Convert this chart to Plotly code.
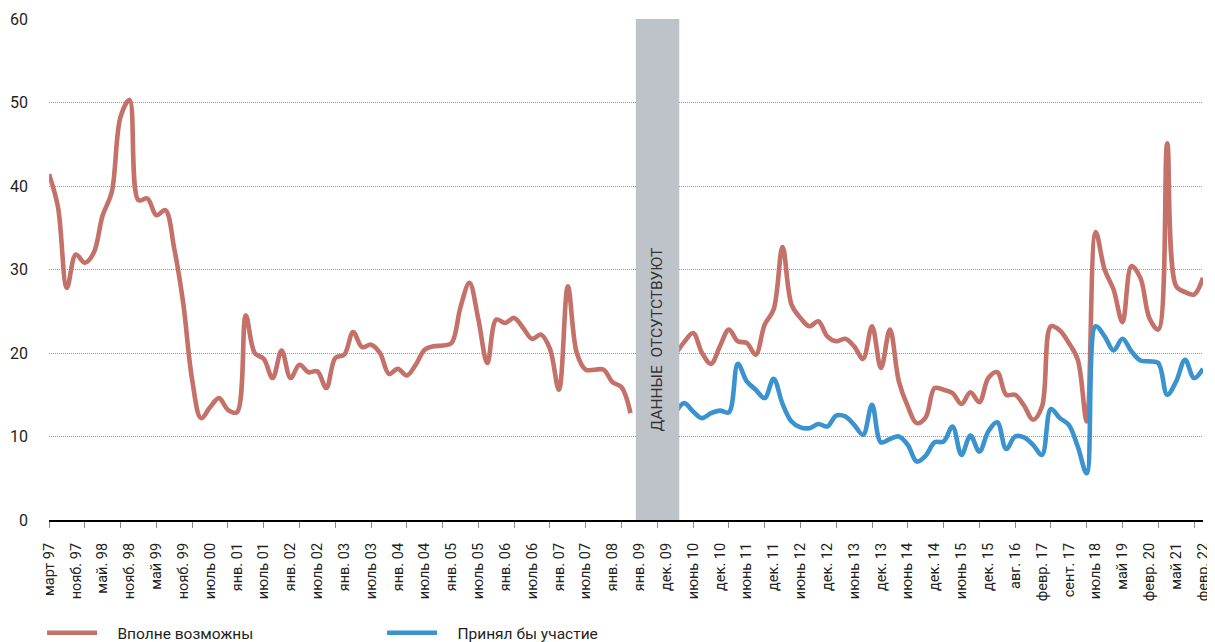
import plotly.graph_objects as go

# Category axis: survey waves 0..129 (labels every 3rd wave, tick marks every 4th)
tick_labels = ["март 97", "нояб. 97", "май. 98", "нояб. 98", "май 99", "нояб. 99",
               "июль 00", "янв. 01", "июль 01", "янв. 02", "июль 02", "янв. 03",
               "июль 03", "янв. 04", "июль 04", "янв. 05", "июль 05", "янв. 06",
               "июль 06", "янв. 07", "июль 07", "янв. 08", "янв. 09", "дек. 09",
               "июнь 10", "дек. 10", "июнь 11", "дек. 11", "июнь 12", "дек. 12",
               "июнь 13", "дек. 13", "июнь 14", "дек. 14", "июнь 15", "дек. 15",
               "авг. 16", "февр. 17", "сент. 17", "июль 18", "май 19", "февр. 20",
               "май 21", "февр. 22"]

# "Вполне возможны" (waves 0..65, then gap, then 70..129)
vpolne_part1 = [41.4, 37.5, 27.8, 31.8, 30.8, 32.0, 36.5, 39.2, 48.3, 50.3,
                38.3, 38.5, 36.5, 37.1, 32.5, 26.0, 16.8, 12.2, 13.5, 14.6,
                13.2, 12.9, 24.5, 20.0, 19.3, 17.0, 20.3, 17.0, 18.6, 17.7,
                17.8, 15.8, 19.4, 19.8, 22.5, 20.7, 21.0, 20.0, 17.5, 18.1,
                17.3, 18.6, 20.4, 20.8, 20.9, 21.2, 25.5, 28.4, 24.0, 18.8,
                24.0, 23.6, 24.2, 23.0, 21.7, 22.2, 20.5, 15.6, 28.0, 20.0,
                18.0, 18.0, 18.0, 16.5, 15.9, 12.8]
vpolne_part2 = [19.8, 21.3, 22.4, 20.0, 18.7, 20.8, 22.8, 21.4, 21.2, 19.8,
                23.4, 25.2, 32.7, 25.8, 24.2, 23.2, 23.8, 22.0, 21.4, 21.7,
                20.8, 19.3, 23.2, 18.2, 22.8, 16.6, 13.6, 11.6, 12.3, 15.8,
                15.6, 15.2, 13.9, 15.3, 14.1, 17.0, 17.7, 15.0, 15.0, 13.7,
                12.0, 13.6, 23.2, 22.7, 21.2, 19.2, 11.8, 34.5, 30.0, 27.6,
                23.7, 30.4, 29.0, 24.2, 22.8, 45.1, 28.0, 27.3, 27.0, 29.0]
# "Принял бы участие" (waves 70..129)
prinyal_part2 = [12.8, 14.0, 13.0, 12.2, 12.8, 13.1, 12.9, 18.7, 16.6, 15.6,
                 14.6, 16.9, 13.9, 11.8, 11.1, 11.0, 11.5, 11.2, 12.5, 12.4,
                 11.4, 10.2, 13.8, 9.3, 9.7, 10.0, 9.0, 7.0, 7.7, 9.3,
                 9.4, 11.2, 7.8, 10.1, 8.2, 10.6, 11.7, 8.5, 10.0, 9.9,
                 9.0, 7.8, 13.3, 12.2, 11.4, 8.8, 5.6, 23.2, 22.0, 20.3,
                 21.7, 20.2, 19.1, 19.0, 18.8, 15.0, 16.6, 19.2, 17.0, 18.1]

n_missing = 4
vpolne = vpolne_part1 + [None] * n_missing + vpolne_part2
prinyal = [None] * (len(vpolne_part1) + n_missing) + prinyal_part2
waves = list(range(len(vpolne)))
last = waves[-1]

RED = "#C4716A"
BLUE = "#3A93CF"
FONT = "Roboto, 'DejaVu Sans', sans-serif"
TXT = "#231F20"
NB = "\u00a0" * 4

fig = go.Figure()
# red on the tick-mark axis, blue on the label axis (both share the same range)
fig.add_trace(go.Scatter(x=waves, y=vpolne, mode="lines", name=NB + "Вполне возможны",
                         xaxis="x", yaxis="y",
                         line=dict(color=RED, width=4.6, shape="spline", smoothing=1.0)))
fig.add_trace(go.Scatter(x=waves, y=prinyal, mode="lines", name=NB + "Принял бы участие",
                         xaxis="x2", yaxis="y",
                         line=dict(color=BLUE, width=4.6, shape="spline", smoothing=1.0)))

# missing-data band
fig.add_shape(type="rect", xref="x", yref="y", x0=65.6, x1=70.45, y0=0, y1=60.2,
              fillcolor="#BEC2C9", line=dict(width=0), layer="above")
fig.add_annotation(x=67.95, y=21.6, xref="x", yref="y", text="ДАННЫЕ  ОТСУТСТВУЮТ",
                   textangle=-90, showarrow=False,
                   font=dict(family=FONT, size=15.5, color="#333333"))

fig.update_layout(
    width=1215, height=642,
    margin=dict(l=41, r=20, t=11, b=130, autoexpand=False),
    paper_bgcolor="white", plot_bgcolor="white",
    font=dict(family=FONT, size=16, color=TXT),
    showlegend=True,
    legend=dict(orientation="h", x=-0.006, xanchor="left", y=-0.226, yanchor="middle",
                entrywidth=275, entrywidthmode="pixels", itemwidth=50,
                font=dict(family=FONT, size=15.5, color=TXT), bgcolor="rgba(0,0,0,0)"),
    xaxis=dict(range=[0, last], tickmode="array", tickvals=list(range(0, last, 4)),
               showticklabels=False, ticks="outside", ticklen=6, tickwidth=1,
               tickcolor="#8a8a8a", showgrid=False, zeroline=False, automargin=False,
               showline=True, linecolor="#000000", linewidth=1.5),
    xaxis2=dict(range=[0, last], overlaying="x", side="bottom", anchor="y",
                tickmode="array", tickvals=list(range(0, last + 1, 3)), ticktext=tick_labels,
                tickangle=-90, ticks="", showgrid=False, zeroline=False, showline=False,
                automargin=False, ticklabelstandoff=19,
                tickfont=dict(family=FONT, size=14.5, color=TXT)),
    yaxis=dict(range=[0, 60], tickmode="array", tickvals=[0, 10, 20, 30, 40, 50, 60],
               showgrid=True, gridcolor="#9A9A9A", griddash="1px,1px", gridwidth=1,
               zeroline=False, showline=False, ticks="", ticklabelstandoff=20,
               automargin=False, tickfont=dict(family=FONT, size=16, color=TXT)),
)

fig.write_html("out.html")
